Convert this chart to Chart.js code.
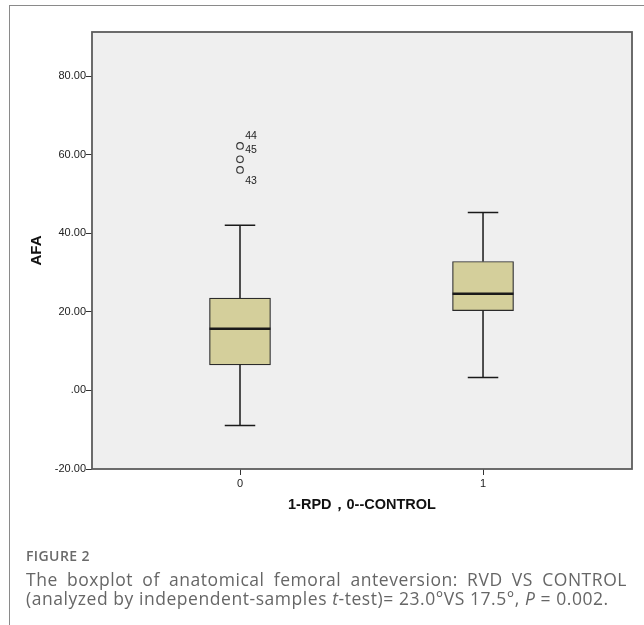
<!DOCTYPE html>
<html>
<head>
<meta charset="utf-8">
<script src="https://cdn.jsdelivr.net/npm/chart.js@4"></script>
<style>
  html, body { margin: 0; padding: 0; background: #fff; overflow: hidden; }
  #wrap { position: relative; width: 644px; height: 625px; }
  #chart { position: absolute; left: 0; top: 0; }
  .frame { position: absolute; left: 9px; top: 5px; width: 700px; height: 700px;
           border-top: 1px solid #8a8a8a; border-left: 1px solid #8a8a8a; }
  .fig { position: absolute; left: 26px; top: 548px; font-family: "Open Sans", Lato, sans-serif;
         font-size: 14px; line-height: 16px; font-weight: 600; color: #6a6a6a; letter-spacing: 0.4px; }
  .cap { position: absolute; left: 26px; width: 601px; font-family: "Open Sans", Lato, sans-serif;
         font-size: 17.5px; line-height: 19px; color: #666; white-space: nowrap; letter-spacing: 0.55px; }
  .cap1 { top: 570px; text-align: justify; text-align-last: justify; white-space: normal; }
  .cap2 { top: 589px; }
</style>
</head>
<body>
<div id="wrap">
  <canvas id="chart" width="644" height="525"></canvas>
  <div class="frame"></div>
  <div class="fig">FIGURE 2</div>
  <div class="cap cap1">The boxplot of anatomical femoral anteversion: RVD VS CONTROL</div>
  <div class="cap cap2">(analyzed by independent-samples <i>t</i>-test)= 23.0°VS 17.5°, <i>P</i> = 0.002.</div>
</div>
<script>
// groups on the x axis (1-RPD, 0--CONTROL)
const categories = [0, 1];
const boxLow = [6.5, 20.3];      // first quartile
const boxHigh = [23.5, 32.8];    // third quartile
const medians = [15.7, 24.6];
const whiskerLow = [-8.9, 3.3];
const whiskerHigh = [42.0, 45.3];

// outliers (group index, value, case label)
const outlierGroup = [0, 0, 0];
const outlierValues = [62.2, 58.8, 56.1];
const outlierIds = ['44', '45', '43'];

const yTicks = [-20, 0, 20, 40, 60, 80];
const xTicks = [0, 1];

const labelShift = [-10, -9, 11]; // vertical offset of case labels

const boxPlugin = {
  id: 'boxparts',
  beforeDraw(chart) {
    const { ctx, chartArea: a } = chart;
    ctx.save();
    ctx.fillStyle = '#efefef';
    ctx.fillRect(a.left, a.top, a.right - a.left, a.bottom - a.top);
    ctx.restore();
  },
  afterDatasetsDraw(chart) {
    const { ctx } = chart;
    const y = chart.scales.y;
    const boxes = chart.getDatasetMeta(0).data;
    ctx.save();
    ctx.strokeStyle = '#1a1a1a';
    boxes.forEach((bar, i) => {
      const x = bar.x;
      const w = bar.width;
      const cap = w / 4;
      ctx.lineWidth = 1.5;
      ctx.beginPath();
      ctx.moveTo(x, y.getPixelForValue(boxHigh[i]));
      ctx.lineTo(x, y.getPixelForValue(whiskerHigh[i]));
      ctx.moveTo(x, y.getPixelForValue(boxLow[i]));
      ctx.lineTo(x, y.getPixelForValue(whiskerLow[i]));
      ctx.moveTo(x - cap, y.getPixelForValue(whiskerHigh[i]));
      ctx.lineTo(x + cap, y.getPixelForValue(whiskerHigh[i]));
      ctx.moveTo(x - cap, y.getPixelForValue(whiskerLow[i]));
      ctx.lineTo(x + cap, y.getPixelForValue(whiskerLow[i]));
      ctx.stroke();
      ctx.lineWidth = 2.6;
      ctx.beginPath();
      ctx.moveTo(x - w / 2, y.getPixelForValue(medians[i]));
      ctx.lineTo(x + w / 2, y.getPixelForValue(medians[i]));
      ctx.stroke();
    });
    // case numbers next to the outliers
    const pts = chart.getDatasetMeta(1).data;
    ctx.fillStyle = '#222';
    ctx.font = '10.5px "Liberation Sans", Arial, sans-serif';
    ctx.textAlign = 'center';
    ctx.textBaseline = 'middle';
    pts.forEach((p, i) => {
      ctx.fillText(outlierIds[i], p.x + 11, p.y + labelShift[i]);
    });
    ctx.restore();
  },
  afterDraw(chart) {
    const { ctx, chartArea: a } = chart;
    ctx.save();
    ctx.strokeStyle = '#5c5c5c';
    ctx.lineWidth = 1.8;
    ctx.strokeRect(a.left, a.top, a.right - a.left, a.bottom - a.top);
    ctx.restore();
  }
};

const tickFont = { family: '"Liberation Sans", Arial, sans-serif', size: 11 };
const titleFont = { family: '"Liberation Sans", Arial, sans-serif', size: 14.5, weight: 'bold' };

new Chart(document.getElementById('chart'), {
  type: 'bar',
  data: {
    datasets: [
      {
        type: 'bar',
        data: categories.map((c, i) => ({ x: c, y: [boxLow[i], boxHigh[i]] })),
        backgroundColor: '#d4cf9b',
        borderColor: '#2b2b2b',
        borderWidth: 1.2,
        borderSkipped: false,
        barThickness: 61
      },
      {
        type: 'scatter',
        data: outlierValues.map((v, i) => ({ x: categories[outlierGroup[i]], y: v })),
        pointRadius: 3.3,
        pointBorderWidth: 1.1,
        pointBackgroundColor: 'rgba(0,0,0,0)',
        pointBorderColor: '#333'
      }
    ]
  },
  options: {
    responsive: false,
    animation: false,
    layout: { padding: { top: 32, right: 12, left: 0, bottom: 0 } },
    plugins: { legend: { display: false }, tooltip: { enabled: false } },
    scales: {
      x: {
        type: 'linear',
        min: -0.609,
        max: 1.613,
        offset: false,
        afterBuildTicks: s => { s.ticks = xTicks.map(v => ({ value: v })); },
        afterFit: s => { s.height = 56; },
        ticks: { font: tickFont, color: '#222', padding: 2, callback: v => String(v) },
        grid: { offset: false, drawOnChartArea: false, tickLength: 6, color: '#333', lineWidth: 1 },
        border: { display: false },
        title: { display: true, text: '1-RPD，0--CONTROL', font: titleFont, color: '#111',
                 padding: { top: 0, bottom: 11 } }
      },
      y: {
        min: -20,
        max: 91.2,
        afterBuildTicks: s => { s.ticks = yTicks.map(v => ({ value: v })); },
        afterFit: s => { s.width = 92; },
        ticks: { font: tickFont, color: '#222', padding: 0,
                 callback: v => v === 0 ? '.00' : v.toFixed(2) },
        grid: { drawOnChartArea: false, tickLength: 6, color: '#333', lineWidth: 1 },
        border: { display: false },
        title: { display: true, text: 'AFA', font: { ...titleFont, size: 15 }, color: '#111',
                 padding: { top: 28 } }
      }
    }
  },
  plugins: [boxPlugin]
});
</script>
</body>
</html>
